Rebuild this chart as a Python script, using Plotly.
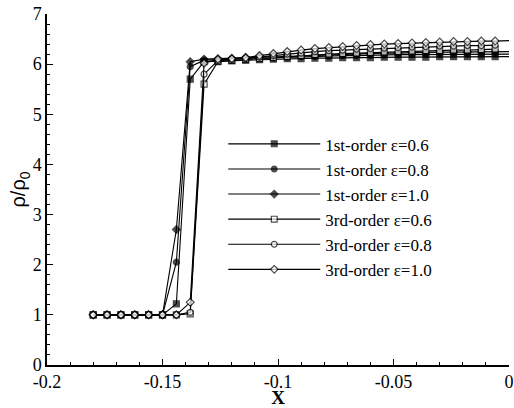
import numpy as np
import plotly.graph_objects as go

# x grid (solution nodes)
x_vals = [round(-0.18 + 0.006 * i, 3) for i in range(31)]

pre = [1.0] * 6
first_06 = pre + [1.22, 5.70, 6.05, 6.06, 6.07, 6.08, 6.09, 6.10, 6.11, 6.11, 6.12, 6.12, 6.13, 6.13, 6.13, 6.14, 6.14, 6.14, 6.14, 6.15, 6.15, 6.15, 6.15, 6.15, 6.15]
first_08 = pre + [2.05, 5.95, 6.08, 6.09, 6.10, 6.11, 6.12, 6.13, 6.14, 6.15, 6.15, 6.16, 6.17, 6.17, 6.18, 6.18, 6.19, 6.19, 6.19, 6.20, 6.20, 6.20, 6.20, 6.20, 6.20]
first_10 = pre + [2.70, 6.05, 6.10, 6.11, 6.12, 6.13, 6.14, 6.15, 6.16, 6.17, 6.18, 6.19, 6.20, 6.20, 6.21, 6.22, 6.22, 6.23, 6.23, 6.24, 6.24, 6.24, 6.25, 6.25, 6.25]
third_06 = pre + [1.0, 1.02, 5.60, 6.05, 6.07, 6.09, 6.11, 6.13, 6.15, 6.17, 6.19, 6.20, 6.21, 6.22, 6.23, 6.24, 6.25, 6.26, 6.27, 6.27, 6.28, 6.28, 6.29, 6.30]
third_08 = pre + [1.0, 1.05, 5.80, 6.07, 6.09, 6.11, 6.14, 6.17, 6.20, 6.22, 6.25, 6.27, 6.28, 6.30, 6.31, 6.32, 6.33, 6.34, 6.35, 6.36, 6.36, 6.37, 6.37, 6.38]
third_10 = pre + [1.0, 1.25, 6.02, 6.10, 6.11, 6.13, 6.17, 6.21, 6.25, 6.28, 6.31, 6.33, 6.35, 6.37, 6.39, 6.40, 6.41, 6.42, 6.43, 6.44, 6.45, 6.45, 6.46, 6.46, 6.47]

names = ["1st-order \u03b5=0.6", "1st-order \u03b5=0.8", "1st-order \u03b5=1.0",
         "3rd-order \u03b5=0.6", "3rd-order \u03b5=0.8", "3rd-order \u03b5=1.0"]
series = [first_06, first_08, first_10, third_06, third_08, third_10]
symbols = ["square", "circle", "diamond", "square", "circle", "diamond"]

fig = go.Figure()
sizes = [6] * (len(x_vals) - 1) + [0]
for i, (nm, ys, sym) in enumerate(zip(names, series, symbols)):
    filled = i < 3
    fig.add_trace(go.Scatter(
        x=x_vals, y=ys, name=nm, mode="lines+markers",
        line=dict(color="black", width=1.1),
        marker=dict(symbol=sym, size=sizes, color="black" if filled else "white",
                    line=dict(color="black", width=1.2)),
        legendgroup=str(i),
        cliponaxis=False,
    ))

serif = "Liberation Serif, Times New Roman, serif"
fig.update_layout(
    width=514, height=408,
    margin=dict(l=47, r=5, t=14, b=43),
    paper_bgcolor="white", plot_bgcolor="white",
    font=dict(family=serif, size=18, color="black"),
    showlegend=True,
    legend=dict(x=0.3815, y=0.68, xanchor="left", yanchor="top",
                bgcolor="rgba(0,0,0,0)", font=dict(family=serif, size=17),
                itemwidth=92, tracegroupgap=0),
    xaxis=dict(range=[-0.2, 0], tickvals=[-0.2, -0.15, -0.1, -0.05, 0],
               ticktext=["-0.2", "-0.15", "-0.1", "-0.05", "0"],
               ticks="inside", ticklen=6, tickwidth=1.2, tickcolor="black",
               minor=dict(dtick=0.01, ticks="inside", ticklen=3, tickcolor="black"),
               showline=True, linecolor="black", linewidth=1.5, mirror=False,
               showgrid=False, zeroline=False, automargin=False,
               ticklabeloverflow="allow",
               tickfont=dict(family=serif, size=18),
               title=dict(text="<b>X</b>", font=dict(family=serif, size=19), standoff=0)),
    yaxis=dict(range=[0, 7], dtick=1, ticks="inside", ticklen=6, tickwidth=1.2,
               tickcolor="black",
               minor=dict(dtick=0.2, ticks="inside", ticklen=3, tickcolor="black"),
               showline=True, linecolor="black", linewidth=1.5, mirror=False,
               showgrid=False, zeroline=False, automargin=False,
               tickfont=dict(family=serif, size=18),
               title=dict(text="\u03c1/\u03c1<sub>0</sub>", font=dict(family="Liberation Sans, Arial, sans-serif", size=20), standoff=0)),
)

fig.write_html("out.html", config={"displayModeBar": False},
               post_script="document.body.style.margin='0';document.body.style.overflow='hidden';")
